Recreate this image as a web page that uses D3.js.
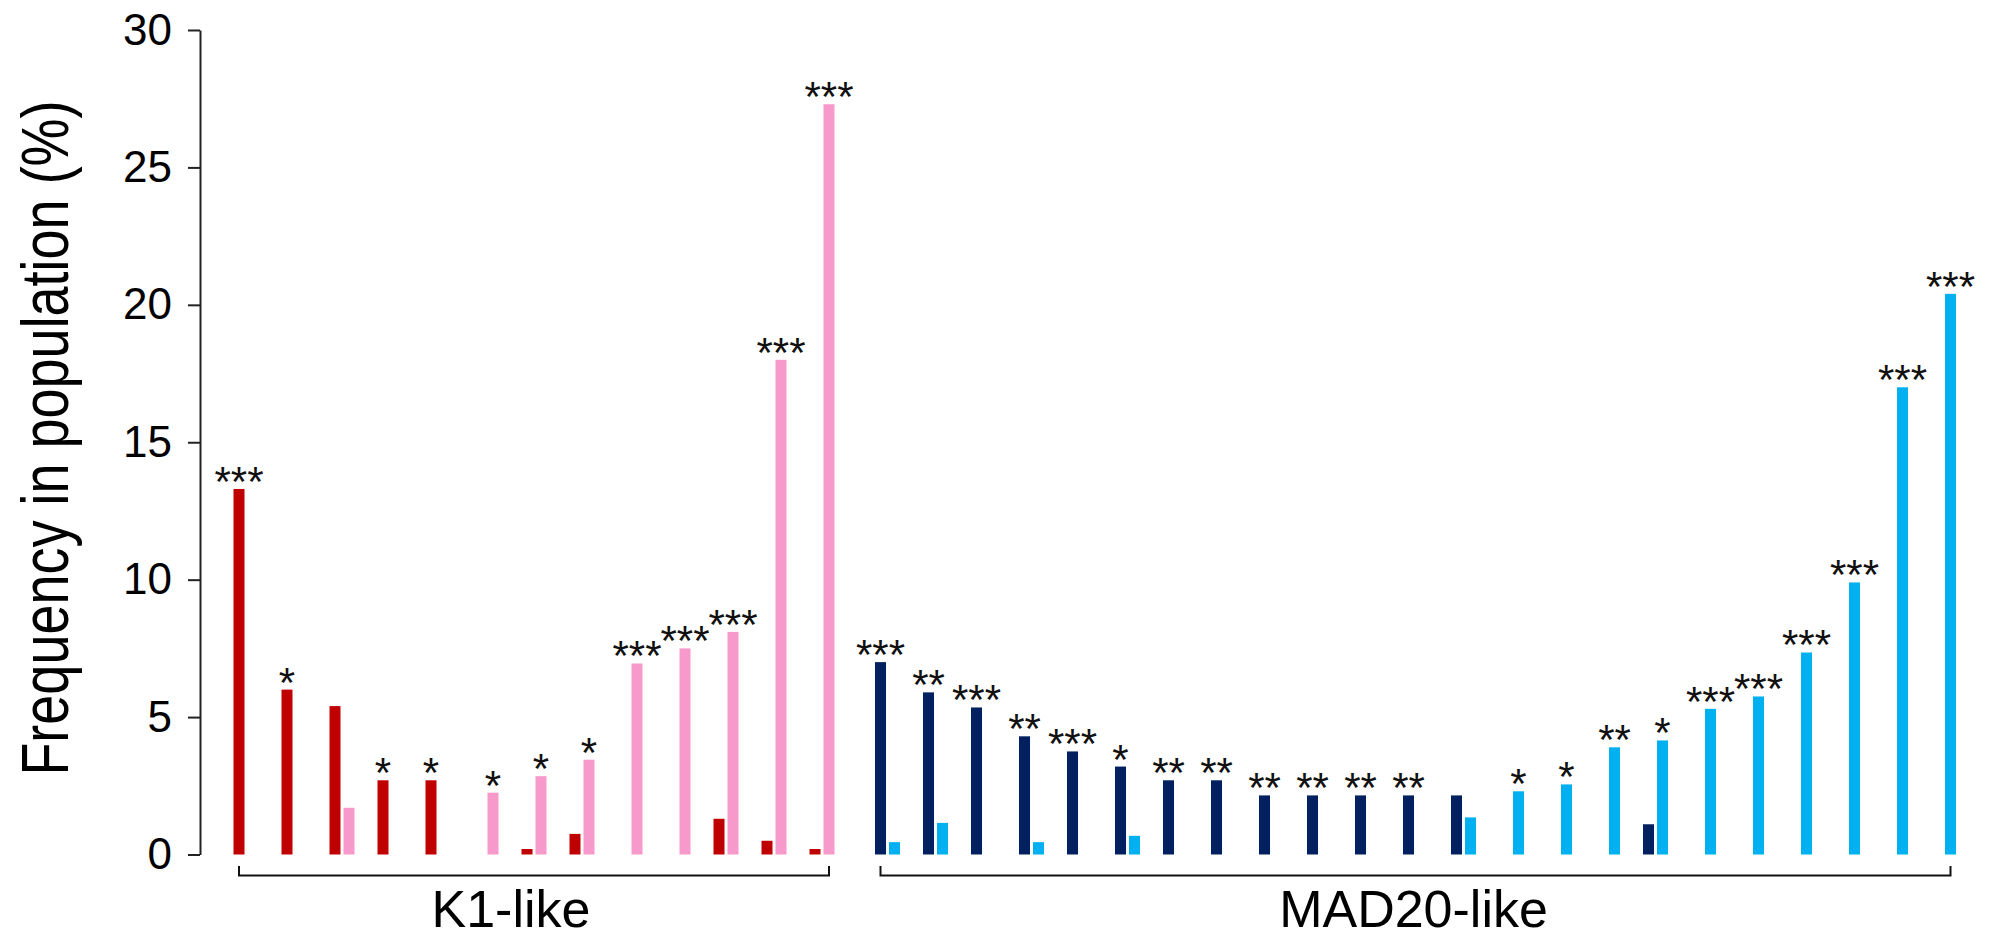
<!DOCTYPE html>
<html>
<head>
<meta charset="utf-8">
<script src="https://cdn.jsdelivr.net/npm/d3@7"></script>
<style>
  html, body { margin: 0; padding: 0; background: #ffffff; }
  svg { display: block; }
</style>
</head>
<body>
<svg id="chart" width="1990" height="938"></svg>
<script>
// ---------------- DATA ----------------
const yTicks = [0, 5, 10, 15, 20, 25, 30];

const k1Categories = ["K1-1","K1-2","K1-3","K1-4","K1-5","K1-6","K1-7","K1-8","K1-9","K1-10","K1-11","K1-12","K1-13"];
const k1DarkValues = [13.3, 6.0, 5.4, 2.7, 2.7, 0, 0.2, 0.75, 0, 0, 1.3, 0.5, 0.2];
const k1PinkValues = [0, 0, 1.7, 0, 0, 2.25, 2.85, 3.45, 6.95, 7.5, 8.1, 18.0, 27.3];
const k1DarkSig = ["***", "*", "", "*", "*", "", "", "", "", "", "", "", ""];
const k1PinkSig = ["", "", "", "", "", "*", "*", "*", "***", "***", "***", "***", "***"];

const madCategories = ["M-1","M-2","M-3","M-4","M-5","M-6","M-7","M-8","M-9","M-10","M-11","M-12","M-13","M-14","M-15","M-16","M-17","M-18","M-19","M-20","M-21","M-22","M-23"];
const madNavyValues = [7.0, 5.9, 5.35, 4.3, 3.75, 3.2, 2.7, 2.7, 2.15, 2.15, 2.15, 2.15, 2.15, 0, 0, 0, 1.1, 0, 0, 0, 0, 0, 0];
const madBlueValues = [0.45, 1.15, 0, 0.45, 0, 0.68, 0, 0, 0, 0, 0, 0, 1.35, 2.3, 2.55, 3.9, 4.15, 5.3, 5.75, 7.35, 9.9, 17.0, 20.4];
const madNavySig = ["***", "**", "***", "**", "***", "*", "**", "**", "**", "**", "**", "**", "", "", "", "", "", "", "", "", "", "", ""];
const madBlueSig = ["", "", "", "", "", "", "", "", "", "", "", "", "", "*", "*", "**", "*", "***", "***", "***", "***", "***", "***"];

const groupLabels = ["K1-like", "MAD20-like"];
const yTitle = "Frequency in population (%)";

// ---------------- LAYOUT ----------------
const svg = d3.select("#chart");
const axisX = 200;
const y = d3.scaleLinear().domain([0, 30]).range([854.5, 30]);

const step = 48;
const k1Start = 222;
const madStart = 863.5;

const xK1 = d3.scaleBand().domain(k1Categories)
  .range([k1Start, k1Start + step * k1Categories.length])
  .paddingInner(23 / 48).paddingOuter(23 / 96);
const xMad = d3.scaleBand().domain(madCategories)
  .range([madStart, madStart + step * madCategories.length])
  .paddingInner(23 / 48).paddingOuter(23 / 96);

const inner = d3.scaleBand().domain(["a", "b"]).range([0, 25]).paddingInner(3 / 14).paddingOuter(0);

const colors = { dark: "#C00000", pink: "#F799CA", navy: "#002060", blue: "#00B0F0" };

function drawGroup(xScale, cats, valsA, valsB, sigA, sigB, colA, colB) {
  const g = svg.append("g");
  const rows = cats.map((c, i) => ({ c, a: valsA[i], b: valsB[i], sa: sigA[i], sb: sigB[i] }));
  const series = [
    { key: "a", val: d => d.a, sig: d => d.sa, color: colA },
    { key: "b", val: d => d.b, sig: d => d.sb, color: colB }
  ];
  series.forEach(s => {
    g.selectAll(null).data(rows.filter(d => s.val(d) > 0)).enter().append("rect")
      .attr("x", d => xScale(d.c) + inner(s.key))
      .attr("width", inner.bandwidth())
      .attr("y", d => y(s.val(d)))
      .attr("height", d => y(0) - y(s.val(d)))
      .attr("fill", s.color);
    g.selectAll(null).data(rows.filter(d => s.sig(d))).enter().append("text")
      .attr("x", d => xScale(d.c) + inner(s.key) + inner.bandwidth() / 2)
      .attr("y", d => y(s.val(d)) + 7)
      .attr("text-anchor", "middle")
      .attr("font-family", "'Liberation Sans', Arial, sans-serif")
      .attr("font-size", 42)
      .attr("fill", "#111")
      .text(d => s.sig(d));
  });
  // bracket
  const left = xScale(cats[0]) + inner("a") + inner.bandwidth() / 2;
  const right = xScale(cats[cats.length - 1]) + inner("b") + inner.bandwidth() / 2;
  const by = 875.5, bt = 866;
  g.append("path")
    .attr("d", `M${left},${bt}V${by}H${right}V${bt}`)
    .attr("fill", "none").attr("stroke", "#111").attr("stroke-width", 2);
  return { left, right };
}

const k1 = drawGroup(xK1, k1Categories, k1DarkValues, k1PinkValues, k1DarkSig, k1PinkSig, colors.dark, colors.pink);
const mad = drawGroup(xMad, madCategories, madNavyValues, madBlueValues, madNavySig, madBlueSig, colors.navy, colors.blue);

// group labels
const labelFont = "'Liberation Sans', Arial, sans-serif";
svg.append("text")
  .attr("x", (k1.left + k1.right) / 2 - 23).attr("y", 927)
  .attr("text-anchor", "middle").attr("font-family", labelFont).attr("font-size", 52).attr("fill", "#000")
  .text(groupLabels[0]);
svg.append("text")
  .attr("x", (mad.left + mad.right) / 2 - 2).attr("y", 927)
  .attr("text-anchor", "middle").attr("font-family", labelFont).attr("font-size", 52).attr("fill", "#000")
  .text(groupLabels[1]);

// y axis
const yAxis = svg.append("g")
  .attr("transform", `translate(${axisX},0)`)
  .call(d3.axisLeft(y).tickValues(yTicks).tickSize(12).tickSizeOuter(0).tickPadding(16));
yAxis.select(".domain").attr("stroke", "#222").attr("stroke-width", 2);
yAxis.selectAll(".tick line").attr("stroke", "#222").attr("stroke-width", 2);
yAxis.selectAll(".tick text")
  .attr("font-family", labelFont).attr("font-size", 44).attr("fill", "#000");

// y title (condensed look: taller glyphs, same length)
svg.append("text")
  .attr("transform", "translate(68,438) rotate(-90) scale(1,1.22)")
  .attr("text-anchor", "middle")
  .attr("font-family", labelFont)
  .attr("font-size", 54)
  .attr("fill", "#000")
  .text(yTitle);
</script>
</body>
</html>
